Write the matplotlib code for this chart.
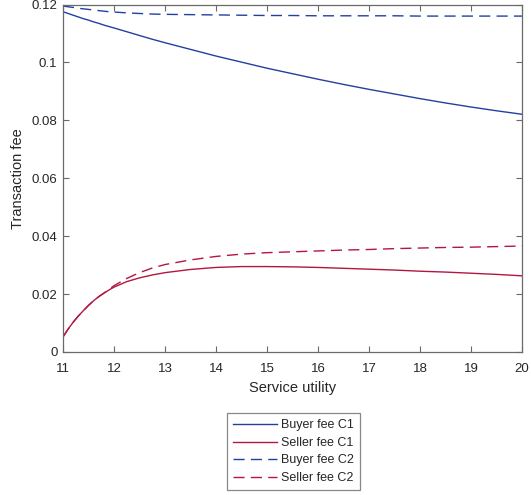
import matplotlib
matplotlib.use('Agg')
from matplotlib import pyplot as plt
from matplotlib.ticker import FuncFormatter

plt.rcParams['font.family'] = ['Liberation Sans', 'DejaVu Sans']

# service utility grid (denser where the seller curves bend)
utility = [11.0, 11.1, 11.2, 11.3, 11.4, 11.5, 11.6, 11.7, 11.8, 11.9, 12.0,
           12.25, 12.5, 12.75,
           13.0, 13.5, 14.0, 14.5, 15.0, 15.5, 16.0, 16.5, 17.0, 17.5, 18.0,
           18.5, 19.0, 19.5, 20.0]

buyer_c1 = [0.1175, 0.1169, 0.1163, 0.1157, 0.1151, 0.1146, 0.1140, 0.1135, 0.1129, 0.1124, 0.1119,
            0.1106, 0.1093, 0.1080,
            0.1068, 0.1045, 0.1022, 0.1001, 0.0980, 0.0961, 0.0942, 0.0924, 0.0907, 0.0891, 0.0875,
            0.0860, 0.0846, 0.0833, 0.0821]
seller_c1 = [0.0052, 0.0079, 0.0103, 0.0124, 0.0143, 0.0161, 0.0177, 0.0191, 0.0203, 0.0214, 0.0224,
             0.0243, 0.0256, 0.0266,
             0.0274, 0.0285, 0.0292, 0.0295, 0.0295, 0.0294, 0.0292, 0.0289, 0.0286, 0.0283, 0.0279,
             0.0276, 0.0272, 0.0268, 0.0263]
buyer_c2 = [0.1195, 0.1192, 0.1190, 0.1187, 0.1185, 0.1183, 0.1181, 0.1179, 0.1177, 0.1175, 0.1174,
            0.1171, 0.1169, 0.1167,
            0.1166, 0.1165, 0.1164, 0.1163, 0.1162, 0.1162, 0.1161, 0.1161, 0.1161, 0.1161, 0.1160,
            0.1160, 0.1160, 0.1160, 0.1160]
seller_c2 = [0.0052, 0.0079, 0.0103, 0.0124, 0.0143, 0.0161, 0.0177, 0.0191, 0.0203, 0.0216, 0.0229,
             0.0254, 0.0274, 0.0290,
             0.0302, 0.0318, 0.0330, 0.0338, 0.0343, 0.0346, 0.0349, 0.0352, 0.0354, 0.0357, 0.0359,
             0.0361, 0.0362, 0.0364, 0.0366]

blue = '#2340a0'
red = '#b3173f'
axis_grey = '#6a6a6a'
text_grey = '#262626'

fig = plt.figure(figsize=(5.31, 4.95), dpi=100)
ax = fig.add_axes([63 / 531, 1 - 352 / 495, 459 / 531, 347.5 / 495])

ax.plot(utility, buyer_c1, color=blue, lw=1.0, label='Buyer fee C1')
ax.plot(utility, seller_c1, color=red, lw=1.0, label='Seller fee C1')
ax.plot(utility, buyer_c2, color=blue, lw=1.0, dashes=(8, 4.5), label='Buyer fee C2')
ax.plot(utility, seller_c2, color=red, lw=1.0, dashes=(8, 4.5), label='Seller fee C2')

ax.set_xlim(11, 20)
ax.set_ylim(0, 0.12)
ax.set_xticks(range(11, 21))
ax.set_yticks([0, 0.02, 0.04, 0.06, 0.08, 0.1, 0.12])
ax.yaxis.set_major_formatter(FuncFormatter(lambda v, p: '%g' % round(v, 2)))

for s in ax.spines.values():
    s.set_color(axis_grey)
    s.set_linewidth(0.9)
ax.tick_params(direction='in', length=4, width=0.8, color=axis_grey,
               labelcolor=text_grey, labelsize=9.5, top=True, right=True, pad=4)
ax.tick_params(axis='x', pad=8)

ax.set_xlabel('Service utility', fontsize=10.5, color=text_grey, labelpad=4)
ax.set_ylabel('Transaction fee', fontsize=10.5, color=text_grey, labelpad=5)

leg = fig.legend(loc='upper center', bbox_to_anchor=(293.5 / 531, 1 - 413 / 495),
                 fontsize=9, frameon=True, fancybox=False, handlelength=3.5,
                 handletextpad=0.3, labelspacing=0.45, borderpad=0.5,
                 borderaxespad=0)
leg.get_frame().set_edgecolor(axis_grey)
leg.get_frame().set_linewidth(0.9)
for t in leg.get_texts():
    t.set_color(text_grey)

fig.savefig('out.png', dpi=100)
